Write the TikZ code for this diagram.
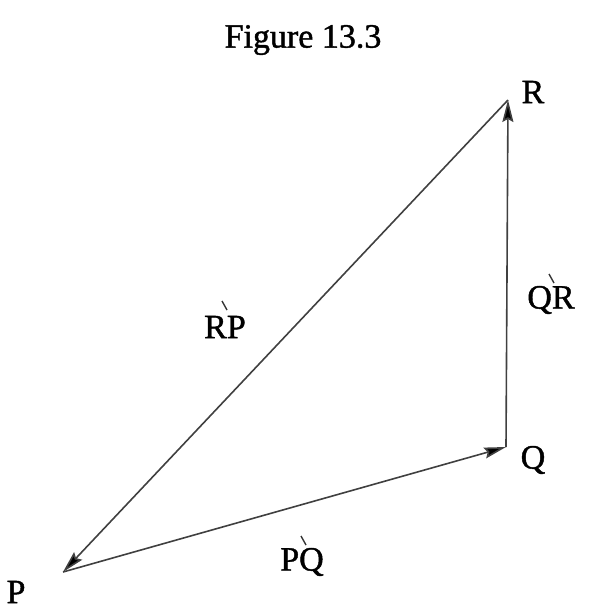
\documentclass[tikz,border=0pt]{standalone}
\usepackage{fontspec}
\setmainfont{Liberation Serif}[FakeBold=1.2]
\usetikzlibrary{arrows.meta}
\begin{document}
\begin{tikzpicture}[x=1pt,y=-1pt,
  vec/.style={line width=1.6pt, draw=black!75, -{Stealth[length=22pt,width=11pt,inset=3pt,fill=black]}},
  lab/.style={font=\fontsize{34}{38}\selectfont, inner sep=0pt, text=black},
  acc/.style={line width=1.4pt, draw=black!80}]
\useasboundingbox (0,0) rectangle (593,611);
\coordinate (P) at (63,572);
\coordinate (Q) at (506,447);
\coordinate (R) at (508,100);
\node[lab] (title) at (303,40) {Figure 13.3};
\node[lab] (Rl) at (533,92) {R};
\node[lab] (Ql) at (533,460) {Q};
\node[lab] (Pl) at (16,592) {P};
\node[lab] (RPl) at (225,327) {RP};
\node[lab] (QRl) at (551,300) {QR};
\node[lab] (PQl) at (302,562) {PQ};
\draw[acc] ([xshift=-3pt,yshift=26pt]RPl.center) -- ++(5,9);
\draw[acc] ([xshift=-2pt,yshift=26pt]QRl.center) -- ++(5,9);
\draw[acc] ([xshift=-1pt,yshift=26pt]PQl.center) -- ++(5,9);
\draw[vec] (P) -- (Q);
\draw[vec] (Q) -- (R);
\draw[vec] (R) -- (P);
\end{tikzpicture}
\end{document}
